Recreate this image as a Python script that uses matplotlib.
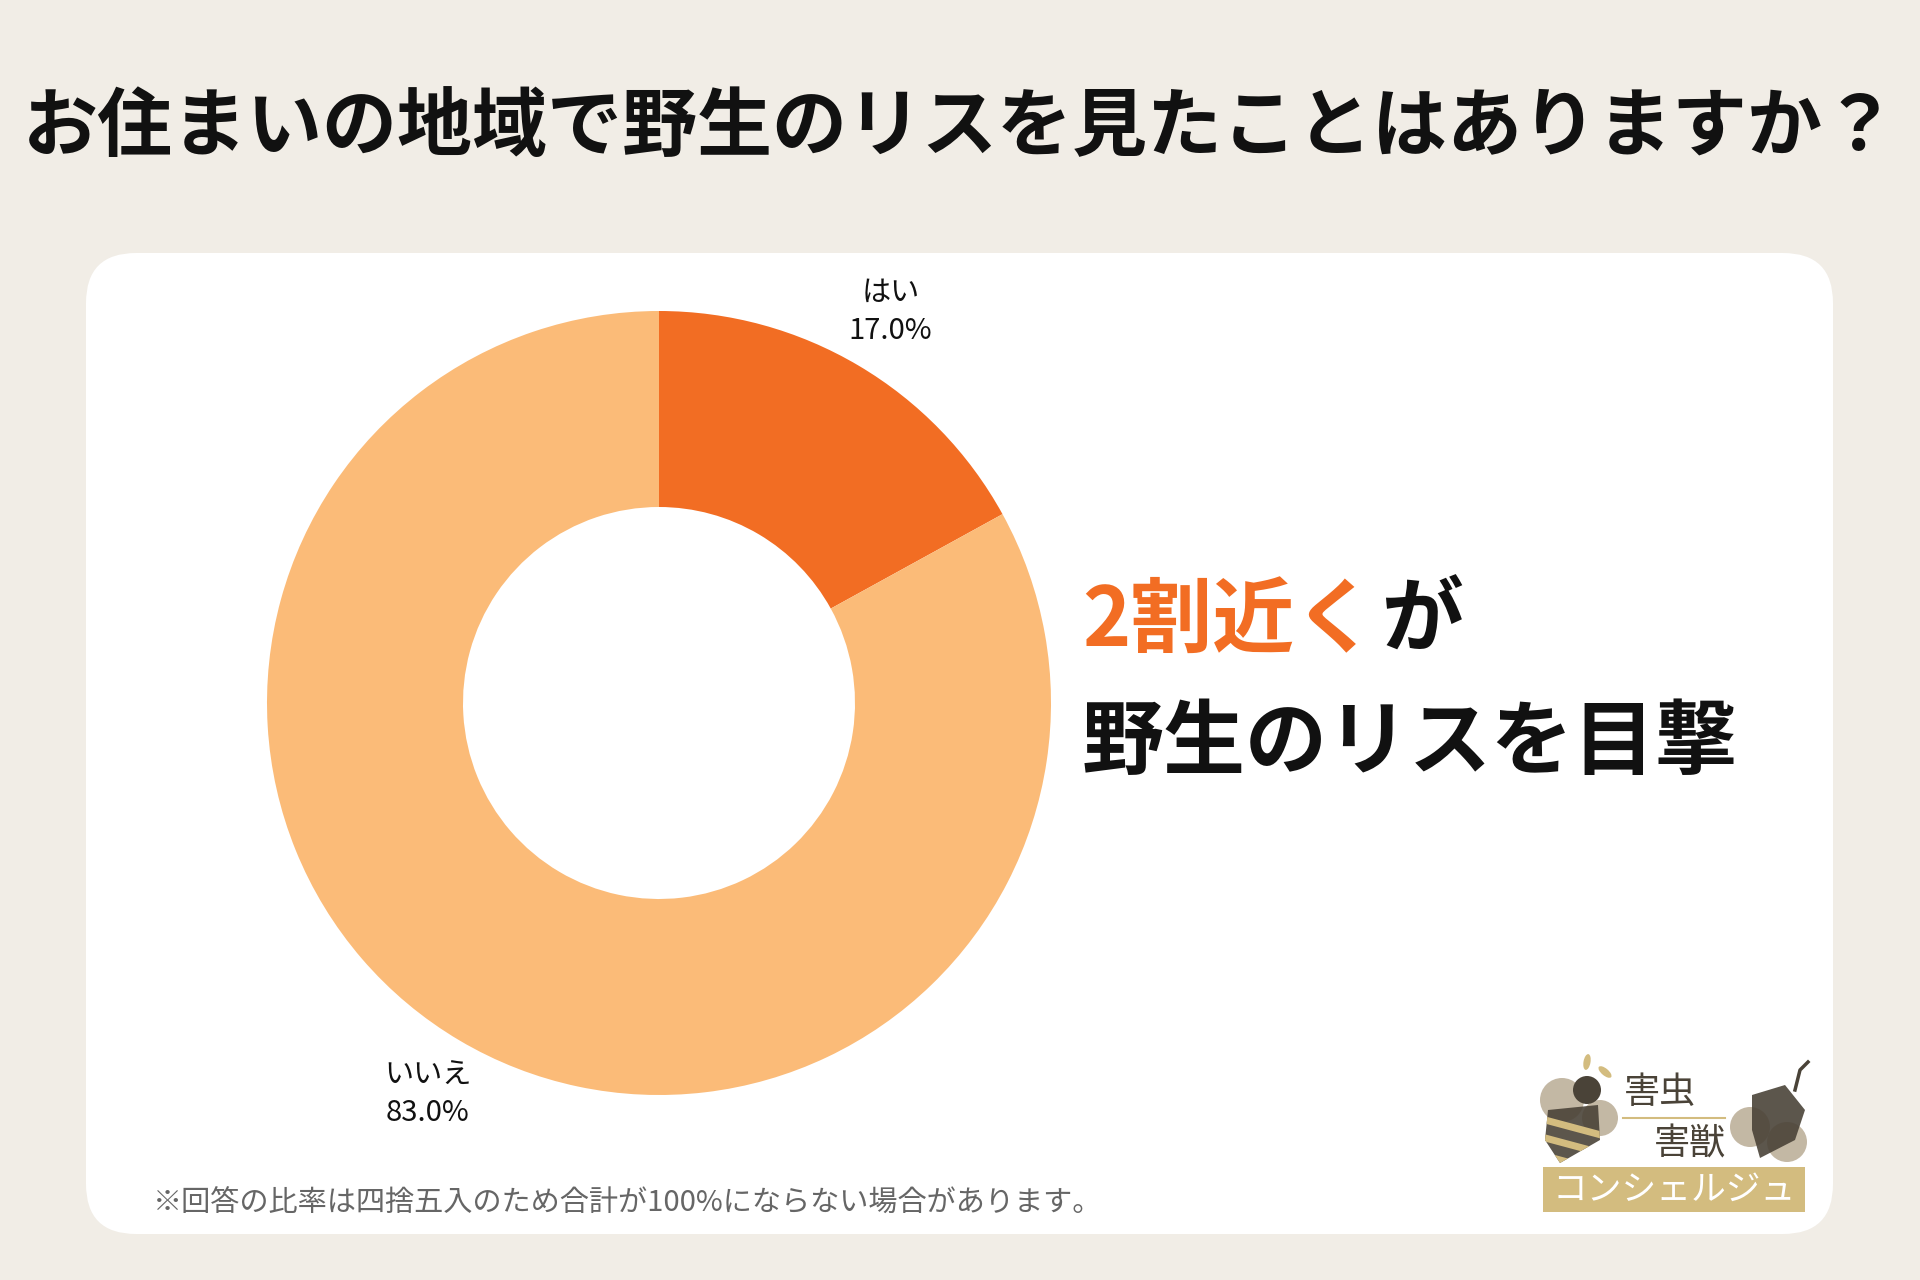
import matplotlib
matplotlib.use("Agg")
import matplotlib.pyplot as plt
from matplotlib.patches import FancyBboxPatch, Circle, Rectangle, Polygon, Ellipse

plt.rcParams['font.family'] = ['Noto Sans CJK JP', 'DejaVu Sans']

# data
labels = ["はい", "いいえ"]
values = [17.0, 83.0]
colors = ["#F26D23", "#FBBB78"]

title = "お住まいの地域で野生のリスを見たことはありますか？"
note = "※回答の比率は四捨五入のため合計が100%にならない場合があります。"
bg = "#F1EDE6"

W, H = 1920, 1280
fig = plt.figure(figsize=(W / 100, H / 100), dpi=100, facecolor=bg)

# overlay axes in pixel coords
ov = fig.add_axes([0, 0, 1, 1])
ov.set_xlim(0, W)
ov.set_ylim(H, 0)
ov.axis("off")
ov.set_zorder(0)

ov.add_patch(FancyBboxPatch((86 + 50, 253 + 50), 1747 - 100, 981 - 100,
                            boxstyle="round,pad=50", fc="white", ec="none"))

ov.text(W / 2, 128, title, ha="center", va="center", fontsize=54,
        fontweight="bold", color="#111111")

ov.text(153, 1204, note, ha="left", va="center", fontsize=21, color="#666666")

# donut
cx, cy, r = 659, 703, 392
ax = fig.add_axes([(cx - r) / W, (H - cy - r) / H, 2 * r / W, 2 * r / H])
ax.set_zorder(1)
texts = ax.pie(values, colors=colors, startangle=90, counterclock=False,
               labels=[f"{l}\n{v:.1f}%" for l, v in zip(labels, values)],
               labeldistance=1.16, radius=1,
               wedgeprops=dict(width=0.5, edgecolor="none"),
               textprops=dict(fontsize=21, color="#111111", linespacing=1.35))[1]
for t in texts:
    t.set_ha("center")
    t.set_va("center")
ax.set_xlim(-1, 1)
ax.set_ylim(-1, 1)
ax.set_aspect("equal")
ax.axis("off")

# callout
t1 = ov.text(1082, 622, "2割近く", ha="left", va="center", fontsize=59,
             fontweight="bold", color="#F26D23")
fig.canvas.draw()
bb = t1.get_window_extent()
ov.text(bb.x1 + 6, 622, "が", ha="left", va="center", fontsize=59,
        fontweight="bold", color="#111111")
ov.text(1082, 744, "野生のリスを目撃", ha="left", va="center", fontsize=59,
        fontweight="bold", color="#111111")

# logo
dark = "#4A4338"
gold = "#D3BC7F"
tan = "#B5A68E"
ov.add_patch(Rectangle((1543, 1167), 262, 45, fc=gold, ec="none"))
ov.text(1674, 1190, "コンシェルジュ", ha="center", va="center", fontsize=25,
        color="white")
ov.text(1660, 1093, "害虫", ha="center", va="center", fontsize=26, color=dark)
ov.text(1690, 1144, "害獣", ha="center", va="center", fontsize=26, color=dark)
ov.plot([1623, 1725], [1118, 1118], color=gold, lw=1.5)
# bee
ov.add_patch(Ellipse((1587, 1062), 7, 16, angle=10, fc=gold, ec="none"))
ov.add_patch(Ellipse((1605, 1072), 7, 16, angle=-50, fc=gold, ec="none"))
ov.add_patch(Circle((1562, 1100), 22, fc=tan, ec="none", alpha=0.8))
ov.add_patch(Circle((1600, 1118), 18, fc=tan, ec="none", alpha=0.8))
ov.add_patch(Circle((1587, 1090), 14, fc=dark, ec="none"))
body = Polygon([(1548, 1110), (1598, 1105), (1600, 1140), (1560, 1163),
                (1545, 1140)], closed=True, fc=dark, ec="none", alpha=0.9)
ov.add_patch(body)
for y0 in (1115, 1133, 1151):
    ov.add_patch(Rectangle((1540, y0), 65, 7, angle=15, fc=gold, ec="none",
                           clip_path=body))
# acorn
ov.add_patch(Circle((1750, 1127), 20, fc=tan, ec="none", alpha=0.8))
ov.add_patch(Circle((1787, 1142), 20, fc=tan, ec="none", alpha=0.8))
ov.add_patch(Polygon([(1752, 1095), (1785, 1085), (1805, 1110), (1795, 1140),
                      (1760, 1158), (1752, 1130)], closed=True, fc=dark,
                     ec="none", alpha=0.9))
ov.plot([1795, 1800, 1808], [1090, 1070, 1062], color=dark, lw=2.5)

fig.savefig("out.png", dpi=100, facecolor=bg)
